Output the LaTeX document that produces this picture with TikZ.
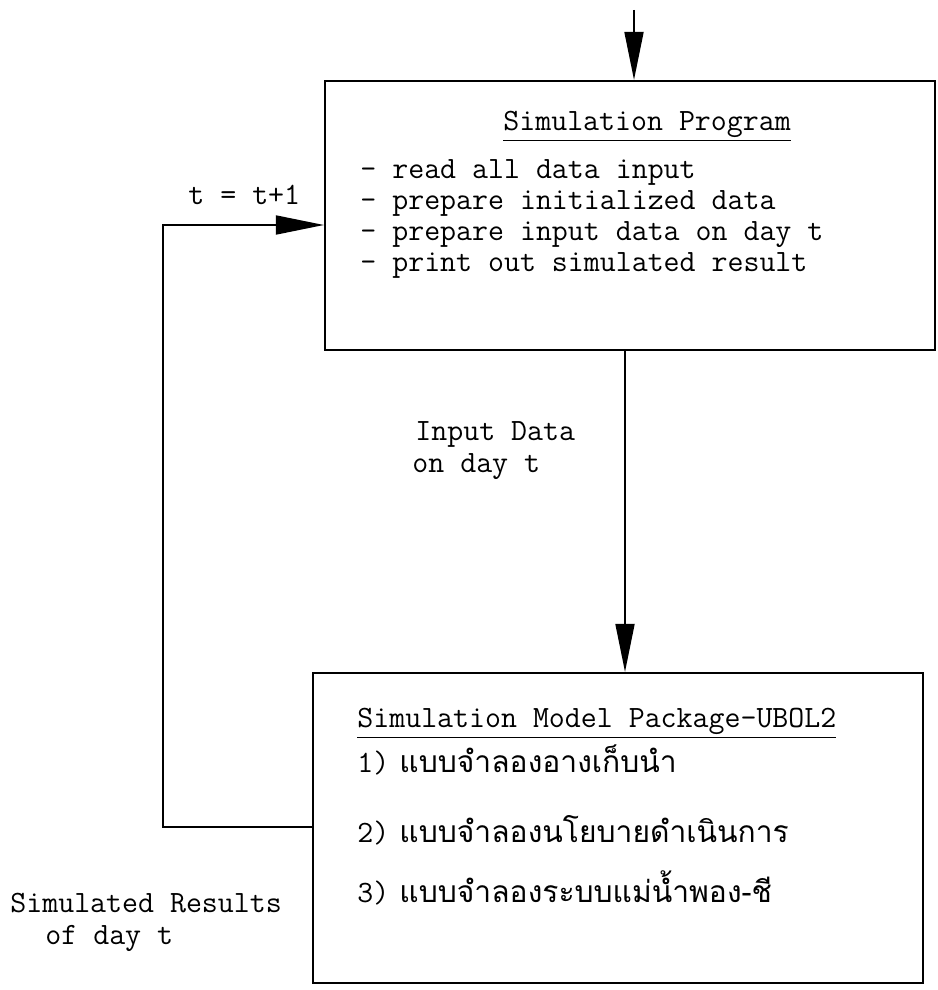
\documentclass[tikz,border=0pt]{standalone}
\usepackage{fontspec}
\usetikzlibrary{arrows.meta, calc, positioning}
\newfontfamily\thaifont[Script=Thai]{Loma}
\tikzset{
    boxNode/.style={draw, rectangle, line width=1.1pt, inner sep=0pt},
    txtNode/.style={anchor=base west, inner sep=0pt, font=\ttfamily\fontsize{15.5}{18}\selectfont},
    thaiNode/.style={anchor=base west, inner sep=0pt, font=\thaifont\fontsize{15}{18}\selectfont},
    flowLine/.style={line width=0.9pt},
    flowEdge/.style={flowLine, -{Triangle[length=24pt, width=9.5pt]}},
}
\newcommand{\itemNo}[1]{{\ttfamily\fontsize{15.5}{18}\selectfont #1}}

\begin{document}
\begin{tikzpicture}[x=0.5pt, y=-0.5pt]
        \useasboundingbox (0,0) rectangle (937,990);

        % boxes
        \node[boxNode, minimum width=305pt, minimum height=134.5pt] (prog) at (630,215.5) {};
        \node[boxNode, minimum width=305pt, minimum height=155pt] (model) at (618,828) {};

        \node[txtNode] (progTitle) at (503,131) {\underline{Simulation Program}};
        \node[txtNode] (progA) at (360,178) {- read all data input};
        \node[txtNode] (progB) at (360,209) {- prepare initialized data};
        \node[txtNode] (progC) at (360,240) {- prepare input data on day t};
        \node[txtNode] (progD) at (360,271) {- print out simulated result};

        \node[txtNode] (modelTitle) at (357,727) {\underline{Simulation Model Package-UBOL2}};
        \node[thaiNode] (modelA) at (357,772) {\itemNo{1)} แบบจำลองอางเก็บนำ};
        \node[thaiNode] (modelB) at (357,842) {\itemNo{2)} แบบจำลองนโยบายดำเนินการ};
        \node[thaiNode] (modelC) at (357,902) {\itemNo{3)} แบบจำลองระบบแม่น้ำพอง-ชี};

        % labels
        \node[txtNode] (incr) at (188,204) {t = t+1};
        \node[txtNode] (inData) at (415,440) {Input Data};
        \node[txtNode] (inDay) at (412,472) {on day t};
        \node[txtNode] (simRes) at (10,912) {Simulated Results};
        \node[txtNode] (simDay) at (45,944) {of day t};

        % connectors
        \coordinate (start) at (634,10);
        \coordinate (mid) at (625,0);
        \coordinate (loopB) at (163,827);
        \coordinate (loopT) at (163,225);

        \draw[flowEdge] (start) -- (start |- prog.north);
        \draw[flowEdge] (mid |- prog.south) -- (mid |- model.north);
        \draw[flowEdge] (model.west |- loopB) -- (loopB) -- (loopT) -- (prog.west |- loopT);
    \end{tikzpicture}
\end{document}
